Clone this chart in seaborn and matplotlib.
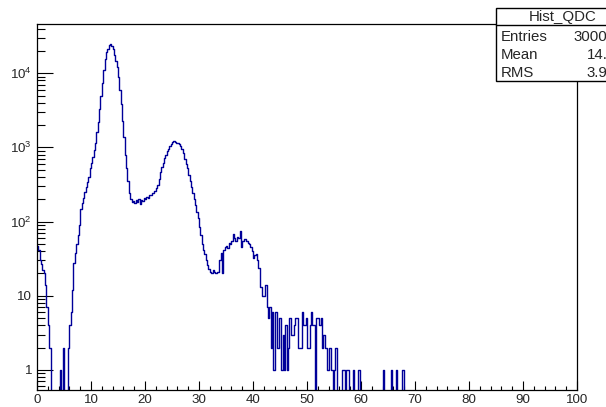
import numpy as np
import pandas as pd
import matplotlib
matplotlib.use("Agg")
import matplotlib.pyplot as plt
import seaborn as sns
from matplotlib.ticker import MultipleLocator, LogLocator, FixedLocator, FixedFormatter, NullFormatter
from matplotlib.patches import Rectangle
from matplotlib.lines import Line2D

sns.set_theme(style="white")
plt.rcParams['font.family'] = ['Liberation Sans', 'DejaVu Sans']
plt.rcParams['mathtext.fontset'] = 'custom'
plt.rcParams['mathtext.rm'] = 'Liberation Sans'
plt.rcParams['mathtext.it'] = 'Liberation Sans:italic'

# ---- data: Hist_QDC, bin width 0.25 ----
bin_width = 0.25
counts_00_10 = [47, 42, 30, 27, 22, 20, 14, 7, 4, 2,
                0, 0, 0, 0, 0, 0,
                0, 1, 0, 2, 0, 0, 0, 2,
                4, 6, 12, 28, 38, 50, 65, 90,
                150, 180, 210, 250, 290, 340, 400, 520]
counts_10_20 = [620, 750, 930, 1150, 1600, 2200, 3300, 5000,
                7300, 11000, 15500, 19000, 21500, 24000, 25000, 23500,
                21000, 17500, 14500, 12000, 9000, 6000, 3800, 2300,
                1400, 800, 520, 350, 240, 200, 185, 190,
                180, 195, 185, 200, 170, 195, 190, 205]
counts_20_30 = [200, 215, 210, 225, 225, 240, 245, 260,
                280, 310, 380, 460, 540, 620, 710, 800,
                880, 960, 1050, 1120, 1180, 1200, 1190, 1150,
                1130, 1100, 1050, 950, 830, 700, 600, 520,
                430, 350, 290, 240, 200, 165, 135, 110]
counts_30_40 = [85, 65, 50, 42, 36, 30, 26, 23,
                21, 20, 22, 21, 20, 21, 21, 30,
                38, 20, 42, 45, 47, 44, 52, 50,
                55, 68, 60, 55, 62, 60, 75, 45,
                55, 58, 58, 55, 52, 50, 45, 40]
counts_40_50 = [32, 35, 36, 30, 24, 13, 13, 10,
                10, 14, 7, 5, 7, 2, 6, 1,
                6, 6, 2, 5, 5, 1, 3, 1,
                4, 1, 2, 5, 3, 3, 4, 5,
                5, 2, 2, 2, 6, 4, 4, 5]
counts_50_60 = [2, 2, 4, 6, 4, 4, 0, 5,
                5, 4, 5, 2, 3, 2, 2, 1,
                2, 2, 1, 0, 1, 2, 0, 0,
                0, 0, 1, 1, 0, 1, 1, 0,
                0, 0, 1, 0, 0, 0, 1, 0]
counts_60_70 = [0, 0, 0, 0, 0, 0, 0, 0,
                0, 0, 0, 0, 0, 0, 0, 0,
                1, 0, 0, 0, 0, 0, 1, 0,
                0, 0, 1, 0, 0, 0, 1, 1,
                0, 0, 0, 0, 0, 0, 0, 0]

y_ticks = [1, 10, 100, 1000, 10000]
y_tick_labels = ["1", "10", "$10^{2}$", "$10^{3}$", "$10^{4}$"]
x_ticks = [0, 10, 20, 30, 40, 50, 60, 70, 80, 90, 100]

stats_title = "Hist_QDC"
stats_names = ["Entries", "Mean", "RMS"]
stats_values = ["300000", "14.52", "3.945"]

counts = np.array(counts_00_10 + counts_10_20 + counts_20_30 + counts_30_40 +
                  counts_40_50 + counts_50_60 + counts_60_70, dtype=float)
edges = np.arange(len(counts) + 1) * bin_width
centers = edges[:-1] + bin_width / 2
df = pd.DataFrame({"qdc": centers, "n": counts})

W, H = 606, 407
fig = plt.figure(figsize=(W / 100, H / 100), dpi=100)
fig.patch.set_facecolor("white")
ax = fig.add_axes([37 / W, 17 / H, 540 / W, 366 / H])
ax.set_facecolor("white")

sns.histplot(data=df, x="qdc", weights="n", bins=list(edges), element="step", fill=False,
             color="#000099", linewidth=1.0, ax=ax)
ax.set_yscale("log")
ax.set_xlim(0, 100)
ax.set_ylim(0.537, 46000)
ax.set_xlabel("")
ax.set_ylabel("")

for s in ax.spines.values():
    s.set_color("black")
    s.set_linewidth(0.9)
    s.set_visible(True)

ax.xaxis.set_major_locator(FixedLocator(x_ticks))
ax.xaxis.set_minor_locator(MultipleLocator(2))
ax.yaxis.set_major_locator(FixedLocator(y_ticks))
ax.yaxis.set_major_formatter(FixedFormatter(y_tick_labels))
ax.yaxis.set_minor_locator(LogLocator(base=10, subs=np.arange(2, 10)))
ax.yaxis.set_minor_formatter(NullFormatter())

ax.tick_params(axis="x", which="major", direction="in", length=6.5, width=0.8,
               color="black", labelsize=9.6, pad=3, bottom=True, top=False)
ax.tick_params(axis="x", which="minor", direction="in", length=3.2, width=0.8,
               color="black", bottom=True, top=False)
ax.tick_params(axis="y", which="major", direction="in", length=11.5, width=0.8,
               color="black", labelsize=9.6, pad=3.5, left=True, right=False)
ax.tick_params(axis="y", which="minor", direction="in", length=5.8, width=0.8,
               color="black", left=True, right=False)
ax.grid(False)

# clipped x-axis title fragment
fig.text(235 / W, 1 - 404 / H, "_  _", fontsize=7, ha="center", va="center", color="#333333")

# stats box
def fx(px):
    return px / W

def fy(py):
    return 1 - py / H

box = Rectangle((fx(496), fy(81)), fx(640) - fx(496), fy(8.5) - fy(81),
                transform=fig.transFigure, facecolor="white", edgecolor="black",
                linewidth=1.0, zorder=5)
fig.patches.append(box)
fig.lines.append(Line2D([fx(496), fx(640)], [fy(25), fy(25)], transform=fig.transFigure,
                        color="black", linewidth=1.0, zorder=6))
fig.text(fx(563), fy(17), stats_title, fontsize=10.8, ha="center", va="center", zorder=7)
row_y = [37, 55, 73]
for name, val, ry in zip(stats_names, stats_values, row_y):
    fig.text(fx(501), fy(ry), name, fontsize=10.8, ha="left", va="center", zorder=7)
    fig.text(fx(624), fy(ry), val, fontsize=10.8, ha="right", va="center", zorder=7)

fig.savefig("out.png", dpi=100, facecolor="white")
